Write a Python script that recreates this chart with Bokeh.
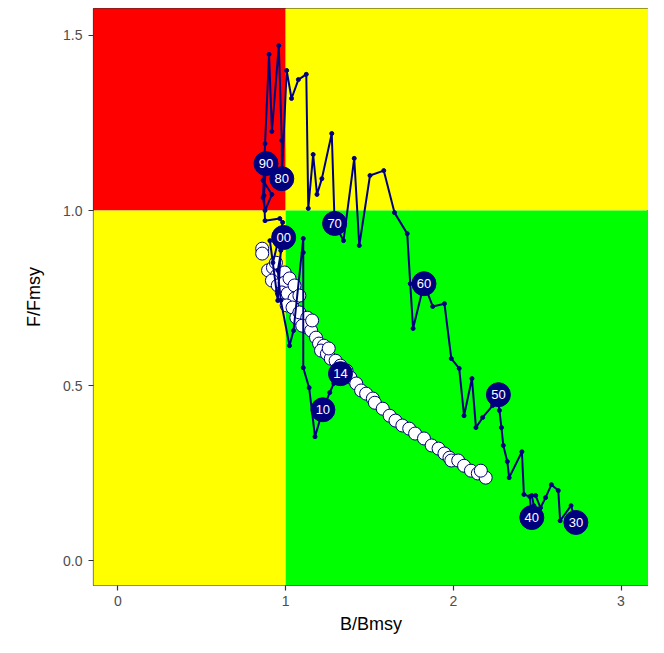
from bokeh.plotting import figure
from bokeh.models import Range1d, ColumnDataSource, FixedTicker, LabelSet
from bokeh.core.properties import value
from bokeh.embed import file_html
from bokeh.resources import INLINE

# ---- data ----
years = list(range(1930, 2015))
traj_b = [2.731, 2.702, 2.637, 2.626, 2.585, 2.550, 2.520, 2.491, 2.468, 2.480,
          2.468, 2.456, 2.421, 2.409, 2.333, 2.322, 2.298, 2.287, 2.275, 2.269,
          2.269, 2.234, 2.175, 2.135, 2.111, 2.064, 2.035, 1.988, 1.947, 1.877,
          1.825, 1.760, 1.743, 1.725, 1.649, 1.585, 1.503, 1.439, 1.409, 1.345,
          1.292, 1.275, 1.216, 1.187, 1.164, 1.135, 1.123, 1.076, 1.035, 1.006,
          0.977, 0.977, 0.959, 0.918, 0.901, 0.877, 0.865, 0.877, 0.918, 0.865,
          0.883, 0.871, 0.877, 0.965, 0.982, 0.924, 0.906, 0.953, 0.971, 1.006,
          0.988, 0.953, 0.971, 1.023, 1.047, 1.105, 1.105, 1.105, 1.140, 1.175,
          1.222, 1.263, 1.287, 1.310, 1.327]
traj_f = [0.109, 0.157, 0.114, 0.200, 0.217, 0.180, 0.151, 0.186, 0.186, 0.157,
          0.123, 0.183, 0.189, 0.311, 0.237, 0.283, 0.329, 0.380, 0.429, 0.451,
          0.474, 0.443, 0.409, 0.380, 0.520, 0.414, 0.549, 0.577, 0.734, 0.726,
          0.791, 0.663, 0.791, 0.934, 0.994, 1.114, 1.100, 0.900, 1.149, 0.914,
          0.963, 1.220, 1.091, 1.046, 1.160, 1.006, 1.389, 1.374, 1.320, 1.400,
          1.091, 1.200, 1.471, 1.226, 1.446, 1.191, 1.037, 1.000, 1.046, 1.086,
          1.134, 1.043, 0.971, 0.977, 0.966, 0.851, 0.914, 0.743, 0.886, 0.943,
          0.923, 0.829, 0.743, 0.614, 0.657, 0.920, 0.880, 0.551, 0.494, 0.354,
          0.431, 0.480, 0.506, 0.520, 0.534]

label_years = [1930, 1940, 1950, 1960, 1970, 1980, 1990, 2000, 2010, 2014]
label_text = ["30", "40", "50", "60", "70", "80", "90", "00", "10", "14"]

cloud_b = [0.860, 0.860, 0.895, 0.924, 0.947, 0.994, 0.918, 0.953, 0.994, 0.977,
           1.012, 1.053, 1.006, 1.041, 1.064, 1.082, 1.129, 1.129, 1.099, 1.152,
           1.181, 1.199, 1.228, 1.211, 1.246, 1.269, 1.298, 1.327, 1.363, 1.386,
           1.421, 1.450, 1.480, 1.520, 1.532, 1.579, 1.620, 1.655, 1.696, 1.737,
           1.772, 1.825, 1.871, 1.912, 1.947, 1.977, 1.988, 2.029, 2.064, 2.105,
           2.146, 2.193, 2.164, 0.942, 1.023, 1.053, 1.082, 1.158, 1.257]
cloud_f = [0.891, 0.877, 0.829, 0.837, 0.814, 0.823, 0.800, 0.786, 0.794, 0.766,
           0.763, 0.749, 0.729, 0.723, 0.694, 0.709, 0.694, 0.666, 0.671, 0.657,
           0.637, 0.620, 0.614, 0.600, 0.591, 0.577, 0.571, 0.557, 0.543, 0.523,
           0.506, 0.486, 0.477, 0.463, 0.451, 0.434, 0.414, 0.400, 0.386, 0.377,
           0.363, 0.349, 0.329, 0.320, 0.306, 0.294, 0.286, 0.286, 0.271, 0.257,
           0.249, 0.237, 0.257, 0.851, 0.806, 0.786, 0.757, 0.686, 0.606]

# quadrants (reference point B/Bmsy = 1, F/Fmsy = 1)
quad_left = [-1, 1, -1, 1]
quad_right = [1, 5, 1, 5]
quad_bottom = [1, 1, -1, -1]
quad_top = [3, 3, 1, 1]
quad_color = ["#FF0000", "#FFFF00", "#FFFF00", "#00FF00"]

x_ticks = [0, 1, 2, 3]
y_ticks = [0.0, 0.5, 1.0, 1.5]

FONT = "Liberation Sans"

# ---- figure ----
p = figure(width=648, height=637, output_backend="svg", toolbar_location=None,
           x_range=Range1d(-0.146, 3.164), y_range=Range1d(-0.071, 1.577),
           min_border_left=93, min_border_right=0, min_border_top=8, min_border_bottom=52)
p.background_fill_color = "white"
p.border_fill_color = "white"
p.grid.visible = False
p.outline_line_color = "#333333"
p.outline_line_width = 1.2

p.quad(left=quad_left, right=quad_right, bottom=quad_bottom, top=quad_top,
       fill_color=quad_color, line_color=None)

p.scatter(cloud_b, cloud_f, size=13, fill_color="white", line_color="#00007A", line_width=1)

p.line(traj_b, traj_f, line_color="#00007F", line_width=2)
p.scatter(traj_b, traj_f, size=4, fill_color="#00007F", line_color="#00007F")

lab_b = [traj_b[years.index(y)] for y in label_years]
lab_f = [traj_f[years.index(y)] for y in label_years]
src = ColumnDataSource(dict(x=lab_b, y=lab_f, t=label_text))
p.scatter("x", "y", source=src, size=24, fill_color="#00007F", line_color="#00007F")
labels = LabelSet(x="x", y="y", text="t", source=src, text_color="white",
                  text_font=value(FONT), text_font_size="13px",
                  text_align="center", text_baseline="middle")
p.add_layout(labels)

for ax in (p.xaxis, p.yaxis):
    ax.axis_line_color = None
    ax.major_tick_line_color = "#333333"
    ax.major_tick_line_width = 1.2
    ax.major_tick_out = 5
    ax.major_tick_in = 0
    ax.minor_tick_line_color = None
    ax.major_label_text_color = "#4D4D4D"
    ax.major_label_text_font = FONT
    ax.major_label_text_font_size = "14px"
    ax.axis_label_text_font = FONT
    ax.axis_label_text_font_size = "18px"
    ax.axis_label_text_font_style = "normal"
    ax.axis_label_text_color = "black"

p.xaxis.ticker = FixedTicker(ticks=x_ticks)
p.yaxis.ticker = FixedTicker(ticks=y_ticks)
p.xaxis.major_label_overrides = {t: str(t) for t in x_ticks}
p.yaxis.major_label_overrides = {t: f"{t:.1f}" for t in y_ticks}
p.xaxis.axis_label = "B/Bmsy"
p.yaxis.axis_label = "F/Fmsy"
p.xaxis.major_label_standoff = 5
p.yaxis.major_label_standoff = 6
p.xaxis.axis_label_standoff = 5
p.yaxis.axis_label_standoff = 16

open("out.html", "w").write(file_html(p, INLINE))
